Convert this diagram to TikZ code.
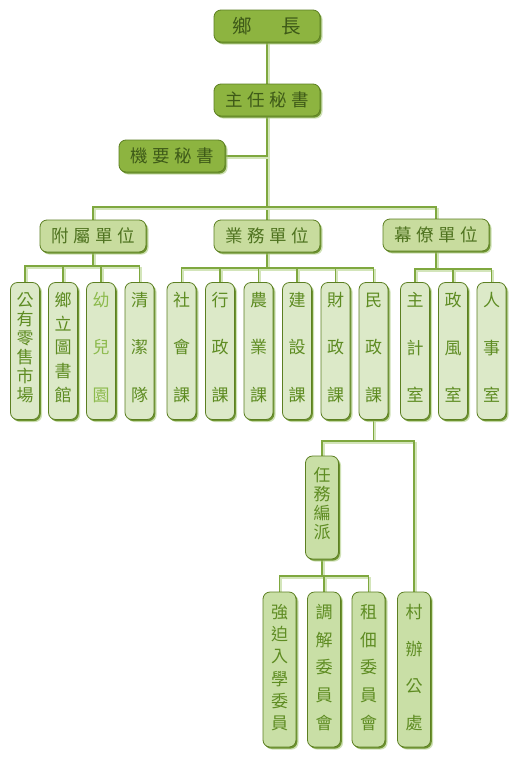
\documentclass[tikz,border=0pt]{standalone}
\usepackage{fontspec}
\setmainfont{Noto Sans CJK TC}
\usetikzlibrary{shadows,backgrounds}
\definecolor{topF}{HTML}{8DB440}
\definecolor{topD}{HTML}{5C7F22}
\definecolor{topT}{HTML}{3E5A18}
\definecolor{midF}{HTML}{C8DC9E}
\definecolor{midT}{HTML}{4F7320}
\definecolor{lowF}{HTML}{DCE9C8}
\definecolor{lowT}{HTML}{5E8C22}
\definecolor{botF}{HTML}{C9DFA6}
\definecolor{paleT}{HTML}{8CBA4C}
\definecolor{shA}{HTML}{6E9430}
\definecolor{shB}{HTML}{A8C97A}
\definecolor{lineC}{HTML}{7FA83F}
\definecolor{lineS}{HTML}{D3E5BA}
\newcommand{\gp}{\hspace{4.5pt}}
\begin{document}
\begin{tikzpicture}[x=1pt,y=-1pt,
  shd/.style={general shadow={fill=shB, opacity=.55, shadow xshift=2.6pt, shadow yshift=-2.6pt},
              general shadow={fill=shA, shadow xshift=1.3pt, shadow yshift=-1.6pt}},
  hbox/.style={rounded corners=7pt, minimum width=106pt, minimum height=32pt, inner sep=0pt, line width=0.8pt, shd},
  topb/.style={hbox, fill=topF, draw=topD, text=topT, font=\fontsize{17.5}{20}\selectfont},
  midb/.style={hbox, fill=midF, draw=topD, text=midT, font=\fontsize{17.5}{20}\selectfont},
  vb/.style={rounded corners=7pt, minimum width=29pt, minimum height=137pt, inner sep=0pt, fill=lowF, draw=topD, line width=0.8pt, shd},
  vbb/.style={vb, minimum width=33pt, minimum height=155pt, fill=botF},
  vbr/.style={vb, minimum width=33pt, minimum height=103pt, fill=botF},
  vt/.style={inner sep=0pt, align=center, text=lowT},
  conn/.style={draw=lineC, line width=1.6pt,
     preaction={draw=lineS, line width=2pt, transform canvas={shift={(1.8pt,-1.8pt)}}}}]
\useasboundingbox (0,0) rectangle (520,758);

% upper levels
\node[topb, font=\fontsize{19.5}{22}\selectfont] (top) at (267,26) {鄉\hspace{30pt}長};
\node[topb] (sec) at (267,100) {主\gp 任\gp 秘\gp 書};
\node[topb] (jy) at (172,156) {機\gp 要\gp 秘\gp 書};
\node[midb] (fs) at (93,236) {附\gp 屬\gp 單\gp 位};
\node[midb] (yw) at (267,236) {業\gp 務\gp 單\gp 位};
\node[midb] (ml) at (436,235) {幕\gp 僚\gp 單\gp 位};

% level 3 boxes
\node[vb] (g1) at (25,351) {};
\node[vb] (g2) at (63,351) {};
\node[vb] (g3) at (101,351) {};
\node[vb] (g4) at (139.5,351) {};
\node[vb] (y1) at (181.5,351) {};
\node[vb] (y2) at (220,351) {};
\node[vb] (y3) at (258.5,351) {};
\node[vb] (y4) at (297,351) {};
\node[vb] (y5) at (335.5,351) {};
\node[vb] (y6) at (373.5,351) {};
\node[vb] (m1) at (415,351) {};
\node[vb] (m2) at (453,351) {};
\node[vb] (m3) at (491.5,351) {};

\node[vt, font=\fontsize{17}{19}\selectfont] (g1t) at ([yshift=3.5pt]g1.center) {公\\有\\零\\售\\市\\場};
\node[vt, font=\fontsize{17}{23.75}\selectfont] (g2t) at ([yshift=3.5pt]g2.center) {鄉\\立\\圖\\書\\館};
\node[vt, text=paleT, font=\fontsize{17}{47.5}\selectfont] (g3t) at ([yshift=3.5pt]g3.center) {幼\\兒\\園};
\node[vt, font=\fontsize{17}{47.5}\selectfont] (g4t) at ([yshift=3.5pt]g4.center) {清\\潔\\隊};
\node[vt, font=\fontsize{17}{47.5}\selectfont] (y1t) at ([yshift=3.5pt]y1.center) {社\\會\\課};
\node[vt, font=\fontsize{17}{47.5}\selectfont] (y2t) at ([yshift=3.5pt]y2.center) {行\\政\\課};
\node[vt, font=\fontsize{17}{47.5}\selectfont] (y3t) at ([yshift=3.5pt]y3.center) {農\\業\\課};
\node[vt, font=\fontsize{17}{47.5}\selectfont] (y4t) at ([yshift=3.5pt]y4.center) {建\\設\\課};
\node[vt, font=\fontsize{17}{47.5}\selectfont] (y5t) at ([yshift=3.5pt]y5.center) {財\\政\\課};
\node[vt, font=\fontsize{17}{47.5}\selectfont] (y6t) at ([yshift=3.5pt]y6.center) {民\\政\\課};
\node[vt, font=\fontsize{17}{47.5}\selectfont] (m1t) at ([yshift=3.5pt]m1.center) {主\\計\\室};
\node[vt, font=\fontsize{17}{47.5}\selectfont] (m2t) at ([yshift=3.5pt]m2.center) {政\\風\\室};
\node[vt, font=\fontsize{17}{47.5}\selectfont] (m3t) at ([yshift=3.5pt]m3.center) {人\\事\\室};

% lower levels
\node[vbr] (rw) at (322,507.5) {};
\node[vt, font=\fontsize{17}{19}\selectfont] (rwt) at ([yshift=4pt]rw.center) {任\\務\\編\\派};
\node[vbb] (b1) at (279.5,669.5) {};
\node[vbb] (b2) at (324,669.5) {};
\node[vbb] (b3) at (368.5,669.5) {};
\node[vbb] (b4) at (414,669.5) {};
\node[vt, font=\fontsize{17}{22.2}\selectfont] (b1t) at ([yshift=2pt]b1.center) {強\\迫\\入\\學\\委\\員};
\node[vt, font=\fontsize{17}{27.75}\selectfont] (b2t) at ([yshift=2pt]b2.center) {調\\解\\委\\員\\會};
\node[vt, font=\fontsize{17}{27.75}\selectfont] (b3t) at ([yshift=2pt]b3.center) {租\\佃\\委\\員\\會};
\node[vt, font=\fontsize{17}{37}\selectfont] (b4t) at ([yshift=2pt]b4.center) {村\\辦\\公\\處};

% bar coordinates
\coordinate (tb) at (267,207);
\coordinate (fb) at (93,266);
\coordinate (yb) at (267,268);
\coordinate (mb) at (436,269);
\coordinate (rb) at (373.5,441);
\coordinate (bb) at (322,576);

\begin{scope}[on background layer]
\fill[white] (0,0) rectangle (520,758);
\draw[conn] (top.south) -- (sec.north);
\draw[conn] (sec.south) -- (yw.north);
\draw[conn] (jy.east) -- (jy.east -| sec.south);
\draw[conn] (fs.north) |- (tb) -| (ml.north);
\draw[conn] (fs.south) -- (fb);
\draw[conn] (g1.north) |- (fb) -| (g4.north);
\draw[conn] (g2.north) -- (g2.north |- fb);
\draw[conn] (g3.north) -- (g3.north |- fb);
\draw[conn] (yw.south) -- (yb);
\draw[conn] (y1.north) |- (yb) -| (y6.north);
\foreach \n in {y2,y3,y4,y5} \draw[conn] (\n.north) -- (\n.north |- yb);
\draw[conn] (ml.south) -- (mb);
\draw[conn] (m1.north) |- (mb) -| (m3.north);
\draw[conn] (m2.north) -- (m2.north |- mb);
\draw[conn] (y6.south) -- (rb);
\draw[conn] (rw.north) |- (rb) -| (b4.north);
\draw[conn] (rw.south) -- (bb);
\draw[conn] (b1.north) |- (bb) -| (b3.north);
\draw[conn] (b2.north) -- (b2.north |- bb);
\end{scope}
\end{tikzpicture}
\end{document}
